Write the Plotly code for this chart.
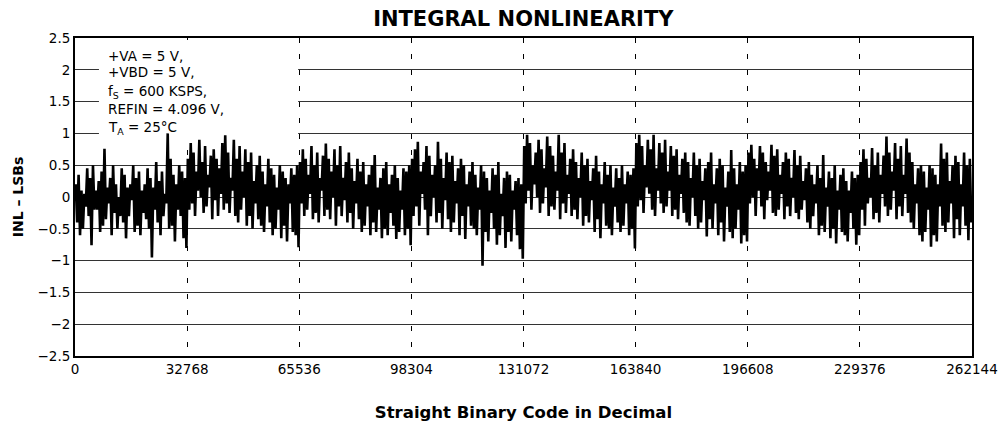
import plotly.graph_objects as go

# INL readings, one list per 32768-code block of the 18-bit converter
inl_seg0 = [0.2, -0.4, 0.35, -0.6, 0.1, -0.5, 0.05, -0.15, 0.45, -0.3, 0.3, -0.76, 0.5, -0.2, 0.1, -0.2,
            0.25, -0.55, 0.4, -0.45, 0.76, -0.35, 0.15, -0.1, 0.3, -0.6, 0.5, -0.25, 0.2, -0.5, 0.0, -0.3,
            0.45, -0.4, 0.35, -0.65, 0.15, -0.3, 0.2, -0.05, 0.5, -0.55, 0.3, -0.45, 0.4, -0.6, 0.1, -0.25,
            0.2, -0.35, 0.45, -0.5, 0.3, -0.95, 0.15, -0.2, 0.55, -0.4, 0.25, -0.6, 0.4, -0.3, 0.05, -0.1,
            1.0, -0.5, 0.6, -0.45, 0.35, -0.7, 0.2, -0.2, 0.5, -0.3, 0.4, -0.65, 0.3, -0.8]
inl_seg1 = [0.6, -0.2, 0.85, -0.1, 0.7, -0.3, 0.4, 0.1, 0.9, 0.0, 0.55, -0.25, 0.8, -0.15, 0.35, 0.15,
            0.65, -0.35, 0.75, -0.05, 0.6, -0.3, 0.45, 0.05, 0.85, -0.2, 0.97, -0.1, 0.7, -0.25, 0.3, 0.1,
            0.9, -0.3, 0.6, -0.4, 0.8, -0.2, 0.4, 0.0, 0.75, -0.45, 0.55, -0.3, 0.7, -0.5, 0.25, -0.1,
            0.5, -0.35, 0.65, -0.45, 0.4, -0.55, 0.2, -0.15, 0.6, -0.4, 0.45, -0.6, 0.35, -0.5, 0.15, -0.2,
            0.5, -0.65, 0.4, -0.45, 0.3, -0.7, 0.2, -0.1, 0.45, -0.55, 0.35, -0.6, 0.5, -0.79]
inl_seg2 = [0.55, -0.1, 0.75, -0.3, 0.6, -0.2, 0.35, 0.05, 0.8, -0.35, 0.5, -0.25, 0.7, -0.4, 0.3, 0.1,
            0.65, -0.3, 0.84, -0.2, 0.6, -0.35, 0.4, 0.0, 0.75, -0.45, 0.5, -0.15, 0.8, -0.3, 0.3, -0.05,
            0.55, -0.4, 0.7, -0.25, 0.45, -0.5, 0.25, -0.1, 0.6, -0.35, 0.4, -0.55, 0.55, -0.45, 0.2, -0.15,
            0.35, -0.6, 0.5, -0.4, 0.66, -0.55, 0.15, -0.2, 0.3, -0.65, 0.45, -0.5, 0.55, -0.6, 0.2, -0.25,
            0.35, -0.45, 0.5, -0.66, 0.3, -0.55, 0.1, -0.2, 0.45, -0.6, 0.4, -0.5, 0.5, -0.76]
inl_seg3 = [0.6, -0.3, 0.75, -0.15, 0.87, -0.45, 0.4, 0.05, 0.55, -0.2, 0.8, -0.6, 0.65, -0.3, 0.35, 0.0,
            0.5, -0.4, 0.87, -0.25, 0.6, -0.5, 0.3, -0.05, 0.7, -0.35, 0.55, -0.55, 0.65, -0.4, 0.25, -0.1,
            0.45, -0.6, 0.6, -0.3, 0.5, -0.66, 0.2, -0.15, 0.4, -0.45, 0.55, -0.5, 0.35, -0.6, 0.15, -0.2,
            0.5, -1.08, 0.4, -0.55, 0.3, -0.7, 0.1, -0.25, 0.45, -0.5, 0.35, -0.75, 0.55, -0.6, 0.05, -0.3,
            0.3, -0.8, 0.4, -0.55, 0.35, -0.7, 0.1, -0.2, 0.25, -0.6, 0.3, -0.82, 0.2, -0.97]
inl_seg4 = [0.8, -0.1, 0.98, 0.1, 0.85, -0.2, 0.5, 0.2, 0.7, 0.0, 0.9, -0.25, 0.75, -0.1, 0.45, 0.15,
            0.95, -0.3, 0.8, -0.15, 0.65, -0.2, 0.4, 0.1, 0.98, -0.35, 0.7, -0.1, 0.85, -0.25, 0.35, 0.05,
            0.6, -0.3, 0.75, -0.2, 0.55, -0.35, 0.3, 0.0, 0.7, -0.45, 0.5, -0.3, 0.6, -0.4, 0.25, -0.05,
            0.45, -0.55, 0.65, -0.35, 0.4, -0.65, 0.2, -0.1, 0.55, -0.45, 0.35, -0.5, 0.5, -0.6, 0.15, -0.15,
            0.45, -0.4, 0.3, -0.55, 0.5, -0.45, 0.2, -0.1, 0.4, -0.6, 0.35, -0.5, 0.45, -0.81]
inl_seg5 = [0.85, -0.15, 0.98, -0.05, 0.8, -0.25, 0.5, 0.15, 0.9, 0.05, 0.75, -0.2, 0.98, -0.3, 0.45, 0.1,
            0.85, -0.1, 0.7, -0.25, 0.9, -0.15, 0.4, 0.1, 0.8, -0.3, 0.65, -0.2, 0.75, -0.35, 0.35, 0.05,
            0.6, -0.25, 0.7, -0.4, 0.55, -0.45, 0.3, 0.0, 0.7, -0.3, 0.5, -0.5, 0.6, -0.4, 0.25, -0.05,
            0.45, -0.62, 0.55, -0.35, 0.7, -0.5, 0.2, -0.1, 0.45, -0.6, 0.6, -0.4, 0.5, -0.7, 0.15, -0.15,
            0.4, -0.55, 0.74, -0.65, 0.45, -0.5, 0.2, -0.2, 0.55, -0.73, 0.4, -0.6, 0.5, -0.7]
inl_seg6 = [0.7, -0.1, 0.82, 0.0, 0.6, -0.3, 0.45, 0.1, 0.8, -0.15, 0.7, -0.35, 0.55, -0.05, 0.4, 0.1,
            0.82, -0.25, 0.65, -0.3, 0.75, -0.2, 0.35, 0.05, 0.55, -0.35, 0.7, -0.15, 0.6, -0.3, 0.3, 0.0,
            0.74, -0.25, 0.5, -0.35, 0.65, -0.2, 0.25, -0.05, 0.45, -0.4, 0.55, -0.5, 0.35, -0.3, 0.2, -0.1,
            0.5, -0.6, 0.3, -0.45, 0.66, -0.55, 0.15, -0.15, 0.4, -0.65, 0.3, -0.5, 0.5, -0.73, 0.1, -0.2,
            0.35, -0.55, 0.45, -0.6, 0.25, -0.7, 0.1, -0.25, 0.4, -0.5, 0.3, -0.75, 0.35, -0.6]
inl_seg7 = [0.55, -0.2, 0.75, -0.45, 0.6, -0.1, 0.3, 0.0, 0.77, -0.35, 0.5, -0.25, 0.7, -0.4, 0.35, 0.05,
            0.65, -0.15, 0.95, -0.3, 0.7, -0.2, 0.4, 0.1, 0.85, -0.35, 0.6, -0.15, 0.8, -0.3, 0.35, 0.05,
            0.92, -0.25, 0.7, -0.4, 0.55, -0.5, 0.2, -0.1, 0.45, -0.6, 0.5, -0.7, 0.4, -0.55, 0.15, -0.2,
            0.5, -0.78, 0.45, -0.6, 0.35, -0.7, 0.2, -0.15, 0.84, -0.45, 0.6, -0.55, 0.7, -0.4, 0.25, -0.1,
            0.5, -0.65, 0.65, -0.35, 0.55, -0.6, 0.2, -0.15, 0.7, -0.45, 0.5, -0.68, 0.6, -0.4]

segments = [inl_seg0, inl_seg1, inl_seg2, inl_seg3, inl_seg4, inl_seg5, inl_seg6, inl_seg7]
block_size = 32768
code_ticks = [0, 32768, 65536, 98304, 131072, 163840, 196608, 229376, 262144]
inl_ticks = [2.5, 2, 1.5, 1, 0.5, 0, -0.5, -1, -1.5, -2, -2.5]

conditions = ["+VA = 5 V,", "+VBD = 5 V,", "f<sub>S</sub> = 600 KSPS,", "REFIN = 4.096 V,",
              "T<sub>A</sub> = 25°C"]
condition_levels = [2.22, 1.97, 1.65, 1.38, 1.08]

# spread each block's readings evenly across its code range
codes, values = [], []
for k, seg in enumerate(segments):
    n = len(seg)
    for i, v in enumerate(seg):
        codes.append(k * block_size + (i + 0.5) * block_size / n)
        values.append(v)

FONT = "DejaVu Sans, Verdana, sans-serif"

fig = go.Figure()
fig.add_trace(go.Scatter(x=codes, y=values, mode="lines",
                         line=dict(color="black", width=2.6), hoverinfo="skip"))

# white panel behind the test conditions (hides the grid, not the trace)
fig.add_shape(type="rect", xref="x", yref="y", x0=7000, x1=65200, y0=0.86, y1=2.47,
              fillcolor="white", line=dict(width=0), layer="between")

for txt, yy in zip(conditions, condition_levels):
    fig.add_annotation(text=txt, xref="paper", yref="y", x=0.035, y=yy, xanchor="left",
                       yanchor="middle", showarrow=False,
                       font=dict(family=FONT, size=13.5, color="black"))

fig.update_layout(
    width=1000, height=424,
    margin=dict(l=75, r=28, t=38, b=68, autoexpand=False),
    paper_bgcolor="white", plot_bgcolor="white",
    showlegend=False,
    title=dict(text="<b>INTEGRAL NONLINEARITY</b>", x=0.5233, xanchor="center", y=0.957, yanchor="middle",
               font=dict(family=FONT, size=21, color="black")),
    font=dict(family=FONT, color="black"),
)

fig.update_xaxes(range=[0, 262144], tickvals=code_ticks, ticktext=[str(c) for c in code_ticks],
                 automargin=False,
                 showline=True, linecolor="black", linewidth=2, mirror=True,
                 showgrid=True, gridcolor="black", gridwidth=1, griddash="5px,11px",
                 ticks="", tickfont=dict(family=FONT, size=13.5), zeroline=False,
                 title=dict(text="<b>Straight Binary Code in Decimal</b>", standoff=30,
                            font=dict(family=FONT, size=16.5)))
fig.update_yaxes(range=[-2.5, 2.5], tickvals=inl_ticks, automargin=False,
                 showline=True, linecolor="black", linewidth=2, mirror=True,
                 showgrid=True, gridcolor="#333333", gridwidth=1.2,
                 ticks="", tickfont=dict(family=FONT, size=13.5), zeroline=False,
                 title=dict(text="<b>INL – LSBs</b>", standoff=11, font=dict(family=FONT, size=14)))

fig.write_html("out.html")
